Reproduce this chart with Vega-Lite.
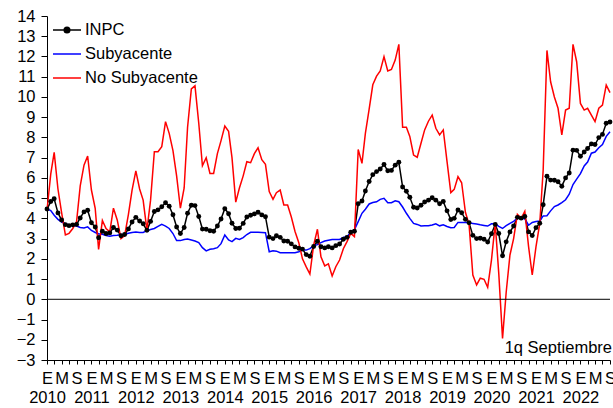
{
"$schema":"https://vega.github.io/schema/vega-lite/v6.json",
"width":563,"height":344,
"autosize":"none",
"padding":{"left":47,"top":16,"right":3,"bottom":48},
"background":"white",
"config":{"view":{"stroke":null},"font":"Liberation Sans","axisY":{"labelOverlap":false},"axis":{"labelOverlap":false}},
"title":{"text":"Variación anual en por ciento","fontSize":26,"fontWeight":"normal","color":"#A6A6A6","anchor":"middle","baseline":"alphabetic","offset":0,"dy":12,"font":"Liberation Sans"},
"data":{"values":[
{"d":"2010-01","INPC":4.46,"Subyacente":4.46,"No Subyacente":4.40},
{"d":"2010-02","INPC":4.83,"Subyacente":4.38,"No Subyacente":6.20},
{"d":"2010-03","INPC":4.97,"Subyacente":4.15,"No Subyacente":7.26},
{"d":"2010-04","INPC":4.27,"Subyacente":3.95,"No Subyacente":5.45},
{"d":"2010-05","INPC":3.92,"Subyacente":3.82,"No Subyacente":4.28},
{"d":"2010-06","INPC":3.69,"Subyacente":3.74,"No Subyacente":3.18},
{"d":"2010-07","INPC":3.64,"Subyacente":3.67,"No Subyacente":3.26},
{"d":"2010-08","INPC":3.68,"Subyacente":3.63,"No Subyacente":3.50},
{"d":"2010-09","INPC":3.70,"Subyacente":3.62,"No Subyacente":3.84},
{"d":"2010-10","INPC":4.02,"Subyacente":3.55,"No Subyacente":5.60},
{"d":"2010-11","INPC":4.32,"Subyacente":3.52,"No Subyacente":6.63},
{"d":"2010-12","INPC":4.40,"Subyacente":3.58,"No Subyacente":7.08},
{"d":"2011-01","INPC":3.78,"Subyacente":3.40,"No Subyacente":5.40},
{"d":"2011-02","INPC":3.57,"Subyacente":3.30,"No Subyacente":4.50},
{"d":"2011-03","INPC":3.04,"Subyacente":3.24,"No Subyacente":2.47},
{"d":"2011-04","INPC":3.36,"Subyacente":3.21,"No Subyacente":3.90},
{"d":"2011-05","INPC":3.25,"Subyacente":3.15,"No Subyacente":3.50},
{"d":"2011-06","INPC":3.28,"Subyacente":3.12,"No Subyacente":3.34},
{"d":"2011-07","INPC":3.55,"Subyacente":3.15,"No Subyacente":4.50},
{"d":"2011-08","INPC":3.42,"Subyacente":3.17,"No Subyacente":3.92},
{"d":"2011-09","INPC":3.14,"Subyacente":3.20,"No Subyacente":3.00},
{"d":"2011-10","INPC":3.20,"Subyacente":3.22,"No Subyacente":3.15},
{"d":"2011-11","INPC":3.48,"Subyacente":3.26,"No Subyacente":4.20},
{"d":"2011-12","INPC":3.82,"Subyacente":3.30,"No Subyacente":5.40},
{"d":"2012-01","INPC":4.05,"Subyacente":3.32,"No Subyacente":6.35},
{"d":"2012-02","INPC":3.87,"Subyacente":3.30,"No Subyacente":5.45},
{"d":"2012-03","INPC":3.73,"Subyacente":3.30,"No Subyacente":4.90},
{"d":"2012-04","INPC":3.41,"Subyacente":3.39,"No Subyacente":3.42},
{"d":"2012-05","INPC":3.85,"Subyacente":3.45,"No Subyacente":4.90},
{"d":"2012-06","INPC":4.34,"Subyacente":3.50,"No Subyacente":7.29},
{"d":"2012-07","INPC":4.42,"Subyacente":3.60,"No Subyacente":7.29},
{"d":"2012-08","INPC":4.57,"Subyacente":3.70,"No Subyacente":7.54},
{"d":"2012-09","INPC":4.77,"Subyacente":3.62,"No Subyacente":8.78},
{"d":"2012-10","INPC":4.60,"Subyacente":3.50,"No Subyacente":8.20},
{"d":"2012-11","INPC":4.18,"Subyacente":3.25,"No Subyacente":7.35},
{"d":"2012-12","INPC":3.57,"Subyacente":2.90,"No Subyacente":6.10},
{"d":"2013-01","INPC":3.25,"Subyacente":2.90,"No Subyacente":4.50},
{"d":"2013-02","INPC":3.55,"Subyacente":2.95,"No Subyacente":5.50},
{"d":"2013-03","INPC":4.25,"Subyacente":2.98,"No Subyacente":8.50},
{"d":"2013-04","INPC":4.65,"Subyacente":2.93,"No Subyacente":10.40},
{"d":"2013-05","INPC":4.63,"Subyacente":2.88,"No Subyacente":10.55},
{"d":"2013-06","INPC":4.09,"Subyacente":2.80,"No Subyacente":8.70},
{"d":"2013-07","INPC":3.47,"Subyacente":2.55,"No Subyacente":6.60},
{"d":"2013-08","INPC":3.46,"Subyacente":2.39,"No Subyacente":7.00},
{"d":"2013-09","INPC":3.39,"Subyacente":2.47,"No Subyacente":6.22},
{"d":"2013-10","INPC":3.36,"Subyacente":2.50,"No Subyacente":6.22},
{"d":"2013-11","INPC":3.62,"Subyacente":2.55,"No Subyacente":7.20},
{"d":"2013-12","INPC":3.97,"Subyacente":2.75,"No Subyacente":7.84},
{"d":"2014-01","INPC":4.48,"Subyacente":3.18,"No Subyacente":8.56},
{"d":"2014-02","INPC":4.23,"Subyacente":2.93,"No Subyacente":8.30},
{"d":"2014-03","INPC":3.76,"Subyacente":2.85,"No Subyacente":7.00},
{"d":"2014-04","INPC":3.50,"Subyacente":3.01,"No Subyacente":4.80},
{"d":"2014-05","INPC":3.51,"Subyacente":2.96,"No Subyacente":5.50},
{"d":"2014-06","INPC":3.75,"Subyacente":3.05,"No Subyacente":6.10},
{"d":"2014-07","INPC":4.07,"Subyacente":3.20,"No Subyacente":6.80},
{"d":"2014-08","INPC":4.15,"Subyacente":3.31,"No Subyacente":6.75},
{"d":"2014-09","INPC":4.22,"Subyacente":3.31,"No Subyacente":7.20},
{"d":"2014-10","INPC":4.30,"Subyacente":3.31,"No Subyacente":7.49},
{"d":"2014-11","INPC":4.17,"Subyacente":3.30,"No Subyacente":6.90},
{"d":"2014-12","INPC":4.08,"Subyacente":3.29,"No Subyacente":6.67},
{"d":"2015-01","INPC":3.07,"Subyacente":2.35,"No Subyacente":5.32},
{"d":"2015-02","INPC":3.00,"Subyacente":2.40,"No Subyacente":4.94},
{"d":"2015-03","INPC":3.14,"Subyacente":2.38,"No Subyacente":5.27},
{"d":"2015-04","INPC":3.06,"Subyacente":2.30,"No Subyacente":5.40},
{"d":"2015-05","INPC":2.88,"Subyacente":2.30,"No Subyacente":4.66},
{"d":"2015-06","INPC":2.87,"Subyacente":2.30,"No Subyacente":4.66},
{"d":"2015-07","INPC":2.74,"Subyacente":2.30,"No Subyacente":4.08},
{"d":"2015-08","INPC":2.59,"Subyacente":2.30,"No Subyacente":3.35},
{"d":"2015-09","INPC":2.52,"Subyacente":2.35,"No Subyacente":2.80},
{"d":"2015-10","INPC":2.48,"Subyacente":2.43,"No Subyacente":2.00},
{"d":"2015-11","INPC":2.21,"Subyacente":2.43,"No Subyacente":1.60},
{"d":"2015-12","INPC":2.13,"Subyacente":2.50,"No Subyacente":1.25},
{"d":"2016-01","INPC":2.61,"Subyacente":2.65,"No Subyacente":2.68},
{"d":"2016-02","INPC":2.87,"Subyacente":2.70,"No Subyacente":3.46},
{"d":"2016-03","INPC":2.60,"Subyacente":2.80,"No Subyacente":2.10},
{"d":"2016-04","INPC":2.54,"Subyacente":2.88,"No Subyacente":1.65},
{"d":"2016-05","INPC":2.60,"Subyacente":2.92,"No Subyacente":1.75},
{"d":"2016-06","INPC":2.54,"Subyacente":2.96,"No Subyacente":1.15},
{"d":"2016-07","INPC":2.65,"Subyacente":2.96,"No Subyacente":1.61},
{"d":"2016-08","INPC":2.73,"Subyacente":2.96,"No Subyacente":1.94},
{"d":"2016-09","INPC":2.97,"Subyacente":3.05,"No Subyacente":2.50},
{"d":"2016-10","INPC":3.06,"Subyacente":3.10,"No Subyacente":2.85},
{"d":"2016-11","INPC":3.31,"Subyacente":3.30,"No Subyacente":3.26},
{"d":"2016-12","INPC":3.36,"Subyacente":3.44,"No Subyacente":3.10},
{"d":"2017-01","INPC":4.72,"Subyacente":3.84,"No Subyacente":7.40},
{"d":"2017-02","INPC":4.86,"Subyacente":4.25,"No Subyacente":6.72},
{"d":"2017-03","INPC":5.35,"Subyacente":4.45,"No Subyacente":8.20},
{"d":"2017-04","INPC":5.82,"Subyacente":4.71,"No Subyacente":9.40},
{"d":"2017-05","INPC":6.16,"Subyacente":4.78,"No Subyacente":10.60},
{"d":"2017-06","INPC":6.31,"Subyacente":4.82,"No Subyacente":11.03},
{"d":"2017-07","INPC":6.44,"Subyacente":4.94,"No Subyacente":11.28},
{"d":"2017-08","INPC":6.66,"Subyacente":4.99,"No Subyacente":11.99},
{"d":"2017-09","INPC":6.35,"Subyacente":4.77,"No Subyacente":11.28},
{"d":"2017-10","INPC":6.37,"Subyacente":4.77,"No Subyacente":11.36},
{"d":"2017-11","INPC":6.63,"Subyacente":4.87,"No Subyacente":11.82},
{"d":"2017-12","INPC":6.77,"Subyacente":4.82,"No Subyacente":12.60},
{"d":"2018-01","INPC":5.55,"Subyacente":4.56,"No Subyacente":8.50},
{"d":"2018-02","INPC":5.34,"Subyacente":4.25,"No Subyacente":8.50},
{"d":"2018-03","INPC":5.04,"Subyacente":4.00,"No Subyacente":8.05},
{"d":"2018-04","INPC":4.55,"Subyacente":3.75,"No Subyacente":7.13},
{"d":"2018-05","INPC":4.51,"Subyacente":3.70,"No Subyacente":7.02},
{"d":"2018-06","INPC":4.65,"Subyacente":3.62,"No Subyacente":7.71},
{"d":"2018-07","INPC":4.81,"Subyacente":3.63,"No Subyacente":8.37},
{"d":"2018-08","INPC":4.90,"Subyacente":3.63,"No Subyacente":8.80},
{"d":"2018-09","INPC":5.02,"Subyacente":3.67,"No Subyacente":9.10},
{"d":"2018-10","INPC":4.90,"Subyacente":3.73,"No Subyacente":8.45},
{"d":"2018-11","INPC":4.72,"Subyacente":3.63,"No Subyacente":8.12},
{"d":"2018-12","INPC":4.83,"Subyacente":3.68,"No Subyacente":8.37},
{"d":"2019-01","INPC":4.37,"Subyacente":3.60,"No Subyacente":6.80},
{"d":"2019-02","INPC":3.94,"Subyacente":3.54,"No Subyacente":5.27},
{"d":"2019-03","INPC":4.00,"Subyacente":3.55,"No Subyacente":5.43},
{"d":"2019-04","INPC":4.41,"Subyacente":3.80,"No Subyacente":6.06},
{"d":"2019-05","INPC":4.28,"Subyacente":3.80,"No Subyacente":5.76},
{"d":"2019-06","INPC":3.95,"Subyacente":3.80,"No Subyacente":4.30},
{"d":"2019-07","INPC":3.78,"Subyacente":3.78,"No Subyacente":3.70},
{"d":"2019-08","INPC":3.16,"Subyacente":3.75,"No Subyacente":1.20},
{"d":"2019-09","INPC":3.00,"Subyacente":3.72,"No Subyacente":0.71},
{"d":"2019-10","INPC":3.02,"Subyacente":3.68,"No Subyacente":1.04},
{"d":"2019-11","INPC":2.97,"Subyacente":3.65,"No Subyacente":0.99},
{"d":"2019-12","INPC":2.83,"Subyacente":3.62,"No Subyacente":0.59},
{"d":"2020-01","INPC":3.24,"Subyacente":3.73,"No Subyacente":1.94},
{"d":"2020-02","INPC":3.70,"Subyacente":3.73,"No Subyacente":3.75},
{"d":"2020-03","INPC":3.25,"Subyacente":3.60,"No Subyacente":1.28},
{"d":"2020-04","INPC":2.15,"Subyacente":3.50,"No Subyacente":-1.93},
{"d":"2020-05","INPC":2.84,"Subyacente":3.64,"No Subyacente":0.35},
{"d":"2020-06","INPC":3.33,"Subyacente":3.75,"No Subyacente":2.19},
{"d":"2020-07","INPC":3.62,"Subyacente":3.85,"No Subyacente":3.00},
{"d":"2020-08","INPC":4.05,"Subyacente":4.00,"No Subyacente":4.20},
{"d":"2020-09","INPC":4.01,"Subyacente":4.00,"No Subyacente":4.00},
{"d":"2020-10","INPC":4.09,"Subyacente":3.98,"No Subyacente":4.35},
{"d":"2020-11","INPC":3.33,"Subyacente":3.66,"No Subyacente":2.60},
{"d":"2020-12","INPC":3.15,"Subyacente":3.80,"No Subyacente":1.20},
{"d":"2021-01","INPC":3.54,"Subyacente":3.84,"No Subyacente":2.60},
{"d":"2021-02","INPC":3.76,"Subyacente":3.87,"No Subyacente":3.75},
{"d":"2021-03","INPC":4.67,"Subyacente":4.12,"No Subyacente":6.40},
{"d":"2021-04","INPC":6.08,"Subyacente":4.13,"No Subyacente":12.30},
{"d":"2021-05","INPC":5.89,"Subyacente":4.37,"No Subyacente":10.75},
{"d":"2021-06","INPC":5.88,"Subyacente":4.58,"No Subyacente":10.00},
{"d":"2021-07","INPC":5.81,"Subyacente":4.66,"No Subyacente":9.44},
{"d":"2021-08","INPC":5.59,"Subyacente":4.78,"No Subyacente":8.12},
{"d":"2021-09","INPC":6.00,"Subyacente":4.92,"No Subyacente":9.35},
{"d":"2021-10","INPC":6.24,"Subyacente":5.19,"No Subyacente":9.44},
{"d":"2021-11","INPC":7.37,"Subyacente":5.67,"No Subyacente":12.60},
{"d":"2021-12","INPC":7.36,"Subyacente":5.94,"No Subyacente":11.74},
{"d":"2022-01","INPC":7.07,"Subyacente":6.21,"No Subyacente":9.68},
{"d":"2022-02","INPC":7.28,"Subyacente":6.59,"No Subyacente":9.35},
{"d":"2022-03","INPC":7.45,"Subyacente":6.78,"No Subyacente":9.44},
{"d":"2022-04","INPC":7.68,"Subyacente":7.22,"No Subyacente":9.10},
{"d":"2022-05","INPC":7.65,"Subyacente":7.28,"No Subyacente":8.78},
{"d":"2022-06","INPC":7.99,"Subyacente":7.49,"No Subyacente":9.44},
{"d":"2022-07","INPC":8.15,"Subyacente":7.65,"No Subyacente":9.60},
{"d":"2022-08","INPC":8.70,"Subyacente":8.05,"No Subyacente":10.59},
{"d":"2022-09","INPC":8.76,"Subyacente":8.28,"No Subyacente":10.21}
]},
"encoding":{
  "y":{"field":"valor","type":"quantitative","title":null,"scale":{"domain":[-3,14],"nice":false,"zero":false},
     "axis":{"title":null,"grid":false,"values":[-3,-2,-1,0,1,2,3,4,5,6,7,8,9,10,11,12,13,14],"labelOverlap":false,"labelBound":false,"labelFlush":false,"domainColor":"black","domainWidth":1,"tickColor":"black","tickSize":6,"labelFontSize":16.5,"labelFont":"Liberation Sans","labelColor":"black","labelPadding":6}}
},
"layer":[
{"transform":[{"fold":["INPC","Subyacente","No Subyacente"],"as":["serie","valor"]}],
 "mark":{"type":"line","strokeWidth":1.5},
 "encoding":{
   "x":{"field":"d","type":"temporal","title":null,"scale":{"type":"utc","nice":false},
     "axis":{"title":null,"grid":false,"domainColor":"black","domainWidth":1,"tickColor":"black","tickSize":4,"tickCount":{"interval":"month","step":2},
       "labelExpr":"utcmonth(datum.value) == 0 ? ['E', '' + utcyear(datum.value)] : utcmonth(datum.value) == 4 ? 'M' : utcmonth(datum.value) == 8 ? 'S' : ''",
       "labelFontSize":16.5,"labelFont":"Liberation Sans","labelColor":"black","labelPadding":6,"labelLineHeight":19,"labelOverlap":false,"labelFlush":false,"labelBound":false,"labelAngle":0,"labelAlign":"center","labelBaseline":"top"}},
   "color":{"field":"serie","type":"nominal","scale":{"domain":["INPC","Subyacente","No Subyacente"],"range":["black","#0000FF","#FF0000"]},
     "legend":{"title":null,"orient":"none","legendX":5,"legendY":6,"padding":0,"symbolType":"stroke","symbolSize":784,"symbolStrokeWidth":1.5,"labelFontSize":16.5,"labelFont":"Liberation Sans","labelColor":"black","labelOffset":3,"rowPadding":7,"clipHeight":16,
       "encode":{"symbols":{"update":{"shape":{"signal":"datum.value === 'INPC' ? 'M-1,0H1M0.2,0A0.2,0.2,0,1,1,-0.2,0A0.2,0.2,0,1,1,0.2,0' : 'stroke'"},"fill":{"signal":"datum.value === 'INPC' ? 'black' : 'transparent'"}}}}}}}},
{"data":{"values":[{"valor":0}]},
 "mark":{"type":"rule","color":"black","strokeWidth":1}},
{"transform":[{"fold":["INPC","Subyacente","No Subyacente"],"as":["serie","valor"]},{"filter":"datum.serie === 'INPC'"}],
 "mark":{"type":"point","filled":true,"size":24,"color":"black","opacity":1,"shape":"circle"},
 "encoding":{"x":{"field":"d","type":"temporal","title":null}}},
{"data":{"values":[{"d":"2022-09","valor":-2.65,"t":"1q Septiembre"}]},
 "mark":{"type":"text","align":"right","baseline":"alphabetic","fontSize":16.5,"font":"Liberation Sans","color":"black","dx":2},
 "encoding":{"x":{"field":"d","type":"temporal","title":null},
   "text":{"field":"t"}}}
]
}
